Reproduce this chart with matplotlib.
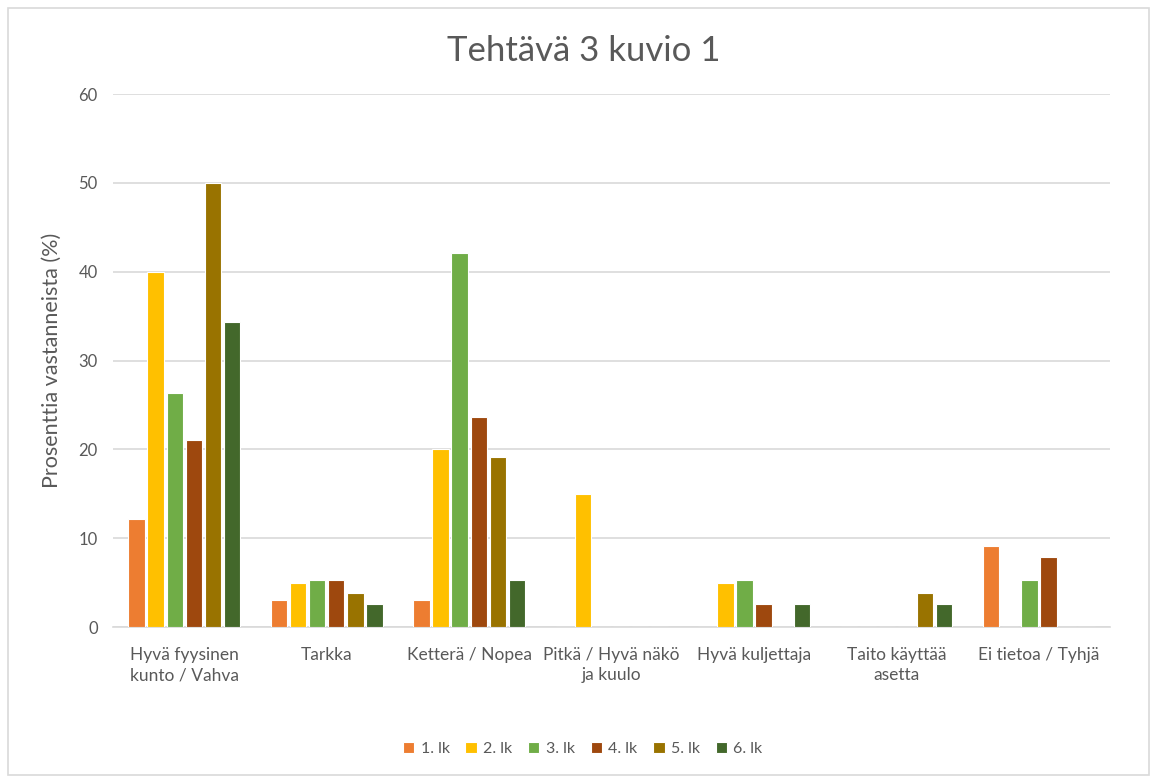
import matplotlib
matplotlib.use("Agg")
import matplotlib.pyplot as plt
import numpy as np
from matplotlib.patches import Rectangle

categories = ["Hyvä fyysinen\nkunto / Vahva", "Tarkka", "Ketterä / Nopea",
              "Pitkä / Hyvä näkö\nja kuulo", "Hyvä kuljettaja",
              "Taito käyttää\nasetta", "Ei tietoa / Tyhjä"]
series_names = ["1. lk", "2. lk", "3. lk", "4. lk", "5. lk", "6. lk"]
lk1 = [12.2, 3.0, 3.0, 0, 0, 0, 9.1]
lk2 = [40.0, 5.0, 20.0, 15.0, 5.0, 0, 0]
lk3 = [26.3, 5.3, 42.1, 0, 5.3, 0, 5.3]
lk4 = [21.1, 5.3, 23.7, 0, 2.6, 0, 7.9]
lk5 = [50.0, 3.8, 19.2, 0, 0, 3.8, 0]
lk6 = [34.3, 2.6, 5.3, 0, 2.6, 2.6, 0]
series = [lk1, lk2, lk3, lk4, lk5, lk6]
colors = ["#ED7D31", "#FFC000", "#70AD47", "#9E480E", "#997300", "#43682B"]

plt.rcParams['font.family'] = ['Lato', 'DejaVu Sans']
fig = plt.figure(figsize=(11.54, 7.78), dpi=100)
ax = fig.add_axes([0.098, 0.194, 0.864, 0.685])

x = np.arange(len(categories))
slot = 0.134
bw = 0.115
for i, (vals, c, n) in enumerate(zip(series, colors, series_names)):
    ax.bar(x + (i - 2.5) * slot, vals, width=bw, color=c, edgecolor="white",
           linewidth=0.8, label=n, zorder=3)

ax.set_xlim(-0.5, len(categories) - 0.5)
ax.set_ylim(0, 60)
ax.set_yticks(range(0, 61, 10))
ax.grid(axis="y", color="#D9D9D9", linewidth=1.2, zorder=0)
for s in ["top", "right", "left"]:
    ax.spines[s].set_visible(False)
ax.spines["bottom"].set_color("#D9D9D9")
ax.spines["bottom"].set_linewidth(1.2)
ax.tick_params(axis="y", length=0, labelsize=12, labelcolor="#595959", pad=11)
ax.tick_params(axis="x", length=0, labelsize=12.5, labelcolor="#595959", pad=14)
ax.set_xticks(x)
ax.set_xticklabels(categories, linespacing=1.35)
ax.set_ylabel("Prosenttia vastanneista (%)", fontsize=15.5, color="#595959", labelpad=12)
fig.text(0.506, 0.935, "Tehtävä 3 kuvio 1", fontsize=25, color="#595959",
         ha="center", va="center")

leg = fig.legend(loc="center", bbox_to_anchor=(0.505, 0.037), ncol=6, frameon=False,
                 fontsize=11.5, handlelength=0.7, handleheight=0.7, handletextpad=0.4,
                 columnspacing=1.0)
for t in leg.get_texts():
    t.set_color("#595959")

fig.patches.append(Rectangle((0.007, 0.004), 0.989, 0.986, transform=fig.transFigure,
                             fill=False, edgecolor="#D9D9D9", linewidth=1.2))
fig.savefig("out.png", dpi=100)
